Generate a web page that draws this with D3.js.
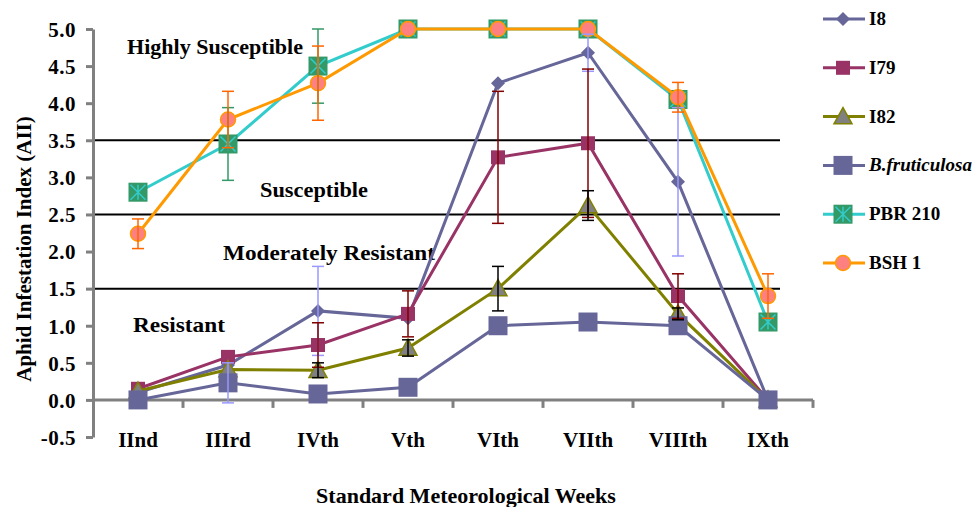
<!DOCTYPE html>
<html>
<head>
<meta charset="utf-8">
<script src="https://cdn.jsdelivr.net/npm/d3@7"></script>
<style>
  body { margin: 0; background: #fff; }
  text { font-family: "Liberation Serif", "Times New Roman", serif; font-weight: bold; }
</style>
</head>
<body>
<svg id="chart" width="973" height="507"></svg>
<script>
var weeks = ['IInd', 'IIIrd', 'IVth', 'Vth', 'VIth', 'VIIth', 'VIIIth', 'IXth'];
var yTicks = [-0.5, 0, 0.5, 1, 1.5, 2, 2.5, 3, 3.5, 4, 4.5, 5];
var thresholds = [3.5, 2.5, 1.5];

var seriesNames = ['I8', 'I79', 'I82', 'B.fruticulosa', 'PBR 210', 'BSH 1'];
var i8 = [0.1, 0.47, 1.2, 1.1, 4.27, 4.68, 2.94, 0];
var i79 = [0.15, 0.58, 0.74, 1.16, 3.27, 3.46, 1.4, 0];
var i82 = [0.12, 0.41, 0.4, 0.7, 1.5, 2.62, 1.16, 0];
var bfrut = [0, 0.23, 0.08, 0.17, 1.0, 1.05, 1.0, 0];
var pbr210 = [2.8, 3.45, 4.5, 5, 5, 5, 4.05, 1.05];
var bsh1 = [2.24, 3.78, 4.27, 5, 5, 5, 4.08, 1.4];

var i8Err = [0, 0, 0.6, 0, 0, 0.25, 1.0, 0];
var i79Err = [0, 0, 0.3, 0.31, 0.89, 1.0, 0.3, 0];
var i82Err = [0, 0, 0.1, 0.11, 0.3, 0.2, 0.08, 0];
var bfrutErr = [0, 0.27, 0, 0, 0, 0, 0, 0];
var pbr210Err = [0, 0.49, 0.5, 0, 0, 0, 0, 0];
var bsh1Err = [0.2, 0.38, 0.5, 0, 0, 0, 0.2, 0.3];

var zoneLabels = ['Highly Susceptible', 'Susceptible', 'Moderately Resistant', 'Resistant'];

// styles for each series
var series = [
  { name: seriesNames[0], values: i8, err: i8Err, line: '#666699', errColor: '#9999ff', marker: 'diamond', fill: '#666699', stroke: 'none', size: 7 },
  { name: seriesNames[1], values: i79, err: i79Err, line: '#993366', errColor: '#800000', marker: 'square', fill: '#993366', stroke: 'none', size: 7 },
  { name: seriesNames[2], values: i82, err: i82Err, line: '#808000', errColor: '#000000', marker: 'triangle', fill: '#808080', stroke: '#808000', size: 9 },
  { name: seriesNames[3], values: bfrut, err: bfrutErr, line: '#666699', errColor: '#9999ff', marker: 'square', fill: '#666699', stroke: 'none', size: 9.5, italic: true },
  { name: seriesNames[4], values: pbr210, err: pbr210Err, line: '#33cccc', errColor: '#339966', marker: 'star', fill: '#339966', stroke: '#33cccc', size: 9.5 },
  { name: seriesNames[5], values: bsh1, err: bsh1Err, line: '#ff9900', errColor: '#ff6600', marker: 'circle', fill: '#ff8080', stroke: '#ff9900', size: 7.5 }
];

var svg = d3.select('#chart');

var x = d3.scaleBand().domain(weeks).range([93, 813]).padding(0);
var y = d3.scaleLinear().domain([-0.5, 5]).range([437, 29]);
var cx = function (w) { return x(w) + x.bandwidth() / 2; };

// threshold lines
svg.append('g').selectAll('line').data(thresholds).enter()
  .append('line')
  .attr('x1', 93).attr('x2', 780)
  .attr('y1', d => y(d)).attr('y2', d => y(d))
  .attr('stroke', '#000').attr('stroke-width', 2);

// y axis
var yAxis = d3.axisLeft(y).tickValues(yTicks).tickSize(7).tickSizeOuter(0)
  .tickFormat(d => d.toFixed(1));
var yg = svg.append('g').attr('transform', 'translate(93,0)').call(yAxis);
yg.select('.domain').attr('stroke', '#808080').attr('stroke-width', 3);
yg.selectAll('.tick line').attr('stroke', '#808080').attr('stroke-width', 3);
yg.selectAll('.tick text')
  .attr('x', -17).attr('dy', '0.35em')
  .style('font-size', '21px').attr('fill', '#000')
  .style('letter-spacing', '0.5px')
  .style('font-family', '"Liberation Serif", serif').style('font-weight', 'bold');

// x axis line at zero
svg.append('line')
  .attr('x1', 93).attr('x2', 813)
  .attr('y1', y(0)).attr('y2', y(0))
  .attr('stroke', '#808080').attr('stroke-width', 3);
svg.append('g').selectAll('line').data(weeks.slice(1).concat(['end'])).enter()
  .append('line')
  .attr('x1', d => d == 'end' ? 813 : x(d)).attr('x2', d => d == 'end' ? 813 : x(d))
  .attr('y1', y(0)).attr('y2', y(0) + 8)
  .attr('stroke', '#808080').attr('stroke-width', 3);

svg.append('g').selectAll('text').data(weeks).enter()
  .append('text')
  .attr('x', d => cx(d)).attr('y', 447)
  .attr('text-anchor', 'middle')
  .style('font-size', '21px')
  .text(d => d);

// axis titles
svg.append('text')
  .attr('x', 466).attr('y', 503)
  .attr('text-anchor', 'middle')
  .style('font-size', '22px')
  .text('Standard Meteorological Weeks');

svg.append('text')
  .attr('transform', 'translate(31,249) rotate(-90)')
  .attr('text-anchor', 'middle')
  .style('font-size', '21px')
  .text('Aphid Infestation Index (AII)');

// zone labels (x, baseline, width)
var zonePos = [[127, 54, 176], [260, 197, 108], [223, 260, 212], [133, 332, 92]];
svg.append('g').selectAll('text').data(zoneLabels).enter()
  .append('text')
  .attr('x', (d, i) => zonePos[i][0]).attr('y', (d, i) => zonePos[i][1])
  .attr('textLength', (d, i) => zonePos[i][2])
  .attr('lengthAdjust', 'spacingAndGlyphs')
  .style('font-size', '21px')
  .text(d => d);

function drawMarker(g, s, px, py) {
  var r = s.size;
  if (s.marker == 'diamond') {
    g.append('path')
      .attr('d', `M${px},${py - r}L${px + r},${py}L${px},${py + r}L${px - r},${py}Z`)
      .attr('fill', s.fill);
  } else if (s.marker == 'square') {
    g.append('rect')
      .attr('x', px - r).attr('y', py - r).attr('width', 2 * r).attr('height', 2 * r)
      .attr('fill', s.fill);
  } else if (s.marker == 'triangle') {
    g.append('path')
      .attr('d', `M${px},${py - r}L${px + r},${py + r * 0.8}L${px - r},${py + r * 0.8}Z`)
      .attr('fill', s.fill).attr('stroke', s.stroke).attr('stroke-width', 1.5);
  } else if (s.marker == 'star') {
    g.append('rect')
      .attr('x', px - r).attr('y', py - r).attr('width', 2 * r).attr('height', 2 * r)
      .attr('fill', s.fill);
    var k = r - 2;
    g.append('path')
      .attr('d', `M${px - k},${py - k}L${px + k},${py + k}M${px + k},${py - k}L${px - k},${py + k}M${px},${py - k}L${px},${py + k}`)
      .attr('stroke', s.stroke).attr('stroke-width', 1.5);
  } else if (s.marker == 'circle') {
    g.append('circle')
      .attr('cx', px).attr('cy', py).attr('r', r)
      .attr('fill', s.fill).attr('stroke', s.stroke).attr('stroke-width', 1.5);
  }
}

var line = d3.line().x((d, i) => cx(weeks[i])).y(d => y(d));

series.forEach(function (s) {
  var g = svg.append('g').attr('class', 'series');
  g.append('path')
    .datum(s.values)
    .attr('d', line)
    .attr('fill', 'none')
    .attr('stroke', s.line)
    .attr('stroke-width', 3);
  s.values.forEach(function (v, i) {
    drawMarker(g, s, cx(weeks[i]), y(v));
  });
});

// error bars on top
series.forEach(function (s) {
  var g = svg.append('g').attr('class', 'errors');
  s.values.forEach(function (v, i) {
    var e = s.err[i];
    if (!e) return;
    var px = cx(weeks[i]);
    g.append('line')
      .attr('x1', px).attr('x2', px)
      .attr('y1', y(v + e)).attr('y2', y(v - e))
      .attr('stroke', s.errColor).attr('stroke-width', 1.5);
    [v + e, v - e].forEach(function (t) {
      g.append('line')
        .attr('x1', px - 6).attr('x2', px + 6)
        .attr('y1', y(t)).attr('y2', y(t))
        .attr('stroke', s.errColor).attr('stroke-width', 1.5);
    });
  });
});

// legend
var legend = svg.append('g').attr('class', 'legend');
var legendY = d3.scalePoint().domain(seriesNames).range([19, 263]);
series.forEach(function (s) {
  var ly = legendY(s.name);
  var g = legend.append('g');
  g.append('line')
    .attr('x1', 823).attr('x2', 865)
    .attr('y1', ly).attr('y2', ly)
    .attr('stroke', s.line).attr('stroke-width', 3);
  drawMarker(g, s, 843, ly);
  g.append('text')
    .attr('x', 869).attr('y', ly + 6)
    .style('font-size', '19px')
    .style('font-style', s.italic ? 'italic' : 'normal')
    .text(s.name);
});
</script>
</body>
</html>
